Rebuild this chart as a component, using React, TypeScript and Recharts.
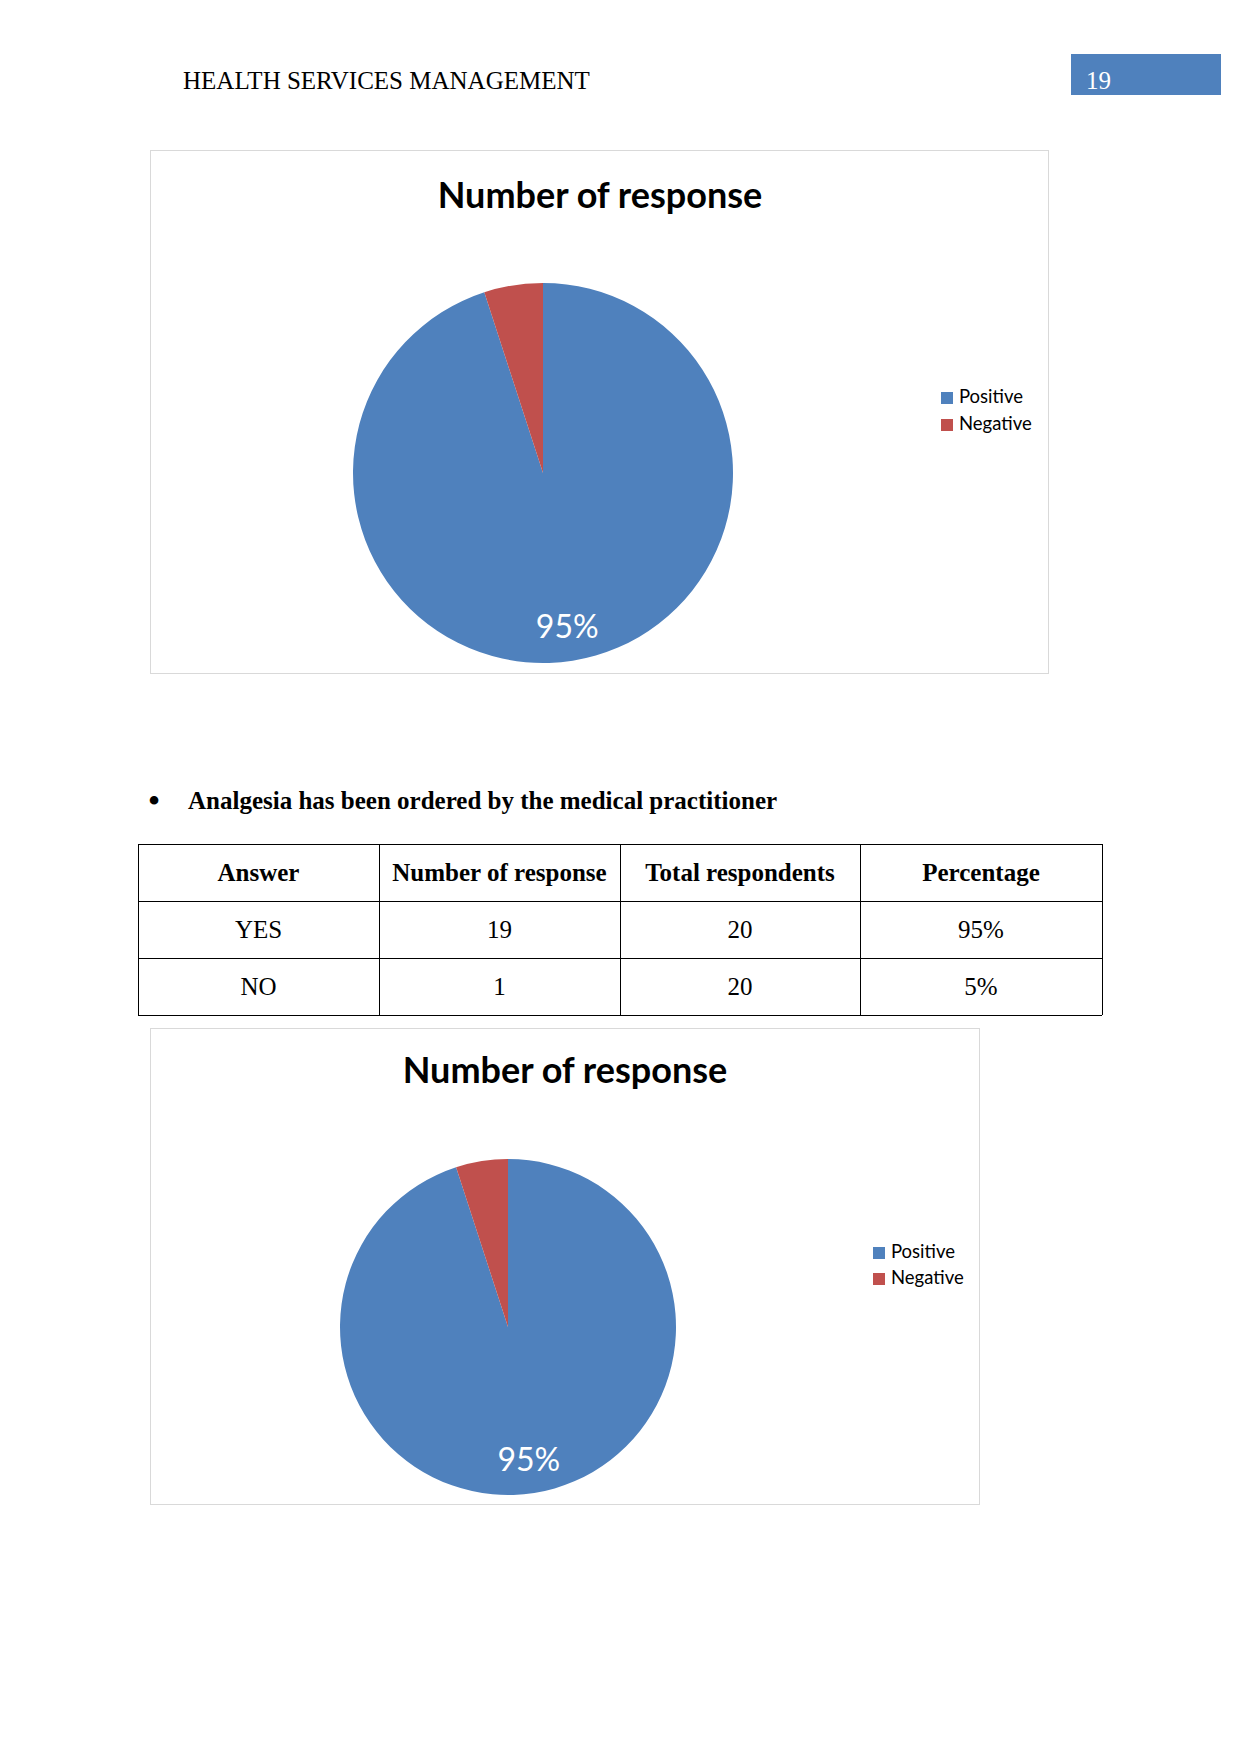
import React from 'react';
import { PieChart, Pie, Cell, Legend } from 'recharts';

// ---- data ----
const categories = ['Positive', 'Negative'];
const responses = [19, 1];
const sliceColors = ['#4F81BD', '#C0504D'];

const chartTitle = 'Number of response';
const headerText = 'HEALTH SERVICES MANAGEMENT';
const pageNumber = '19';
const bulletText = 'Analgesia has been ordered by the medical practitioner';

const tableHeaders = ['Answer', 'Number of response', 'Total respondents', 'Percentage'];
const tableAnswers = ['YES', 'NO'];
const tableResponses = [19, 1];
const tableTotals = [20, 20];
const tablePercentages = ['95%', '5%'];

const pieData = categories.map((name, i) => ({ name, value: responses[i] }));

const RAD = Math.PI / 180;
const SERIF = '"Liberation Serif", "Times New Roman", serif';
const SANS = 'Lato, Carlito, Calibri, sans-serif';

const makeLabel = (ratio: number) => (props: any) => {
  const { cx, cy, midAngle, outerRadius, percent, index } = props;
  if (index !== 0) return null;
  const r = outerRadius * ratio;
  const x = cx + r * Math.cos(-midAngle * RAD);
  const y = cy + r * Math.sin(-midAngle * RAD);
  return (
    <text x={x} y={y} fill="#FFFFFF" textAnchor="middle" dominantBaseline="central" fontFamily={SANS} fontSize={32}>
      {`${Math.round(percent * 100)}%`}
    </text>
  );
};

type ChartProps = {
  left: number;
  top: number;
  width: number;
  height: number;
  cx: number;
  cy: number;
  radius: number;
  legendX: number;
  legendY: number;
  lineH: number;
  labelRatio: number;
};

function ResponsePie(p: ChartProps) {
  return (
    <div style={{ position: 'absolute', left: p.left, top: p.top, width: p.width, height: p.height }}>
      <PieChart width={p.width} height={p.height} margin={{ top: 0, right: 0, bottom: 0, left: 0 }}>
        <Pie
          data={pieData}
          dataKey="value"
          nameKey="name"
          cx={p.cx}
          cy={p.cy}
          outerRadius={p.radius}
          startAngle={90}
          endAngle={-270}
          stroke="none"
          label={makeLabel(p.labelRatio)}
          labelLine={false}
          isAnimationActive={false}
        >
          {pieData.map((d, i) => (
            <Cell key={d.name} fill={sliceColors[i]} />
          ))}
        </Pie>
        <Legend
          layout="vertical"
          verticalAlign="top"
          align="right"
          iconType="square"
          iconSize={12}
          itemSorter={(item: any) => categories.indexOf(item.value)}
          wrapperStyle={{
            left: p.legendX,
            top: p.legendY,
            right: 'auto',
            width: 'auto',
            fontFamily: SANS,
            fontSize: 18.5,
            lineHeight: `${p.lineH}px`,
          }}
          formatter={(value: string) => <span style={{ color: '#000000', marginLeft: 2 }}>{value}</span>}
        />
      </PieChart>
    </div>
  );
}

const colX = [138, 379, 620, 860, 1102];
const rowY = [844, 901, 958, 1015];

export default function App() {
  const rows = tableAnswers.map((a, i) => [a, String(tableResponses[i]), String(tableTotals[i]), tablePercentages[i]]);
  return (
    <div style={{ position: 'absolute', left: 0, top: 0, width: 1241, height: 1754, background: '#FFFFFF' }}>
      <svg width={1241} height={1754} style={{ position: 'absolute', left: 0, top: 0 }}>
        {/* header */}
        <text x={183} y={89} fontFamily={SERIF} fontSize={25} fill="#000">{headerText}</text>
        <rect x={1071} y={54} width={150} height={41} fill="#4F81BD" />
        <text x={1086} y={89} fontFamily={SERIF} fontSize={25} fill="#FFFFFF">{pageNumber}</text>

        {/* chart boxes */}
        <rect x={150.5} y={150.5} width={898} height={523} fill="none" stroke="#D9D9D9" strokeWidth={1} />
        <text x={600} y={208} textAnchor="middle" fontFamily={SANS} fontWeight="bold" fontSize={36} fill="#000">{chartTitle}</text>

        {/* bullet */}
        <text x={154} y={813} textAnchor="middle" fontFamily={SERIF} fontSize={36} fill="#000">•</text>
        <text x={188} y={809} fontFamily={SERIF} fontWeight="bold" fontSize={25} fill="#000">{bulletText}</text>

        {/* table */}
        {rowY.map((y) => (
          <line key={`h${y}`} x1={colX[0]} x2={colX[colX.length - 1]} y1={y + 0.5} y2={y + 0.5} stroke="#000" strokeWidth={1} />
        ))}
        {colX.map((x) => (
          <line key={`v${x}`} x1={x + 0.5} x2={x + 0.5} y1={rowY[0]} y2={rowY[rowY.length - 1]} stroke="#000" strokeWidth={1} />
        ))}
        {tableHeaders.map((h, c) => (
          <text key={h} x={(colX[c] + colX[c + 1]) / 2} y={881} textAnchor="middle" fontFamily={SERIF} fontWeight="bold" fontSize={25} fill="#000">{h}</text>
        ))}
        {rows.map((r, ri) =>
          r.map((cell, c) => (
            <text key={`${ri}-${c}`} x={(colX[c] + colX[c + 1]) / 2} y={938 + ri * 57} textAnchor="middle" fontFamily={SERIF} fontSize={25} fill="#000">{cell}</text>
          ))
        )}

        <rect x={150.5} y={1028.5} width={829} height={476} fill="none" stroke="#D9D9D9" strokeWidth={1} />
        <text x={565} y={1083} textAnchor="middle" fontFamily={SANS} fontWeight="bold" fontSize={36} fill="#000">{chartTitle}</text>
      </svg>

      <ResponsePie left={150} top={150} width={899} height={524} cx={393} cy={323} radius={190} legendX={791} legendY={233} lineH={27} labelRatio={0.815} />
      <ResponsePie left={150} top={1028} width={830} height={477} cx={358} cy={299} radius={168} legendX={723} legendY={210} lineH={26} labelRatio={0.795} />
    </div>
  );
}
